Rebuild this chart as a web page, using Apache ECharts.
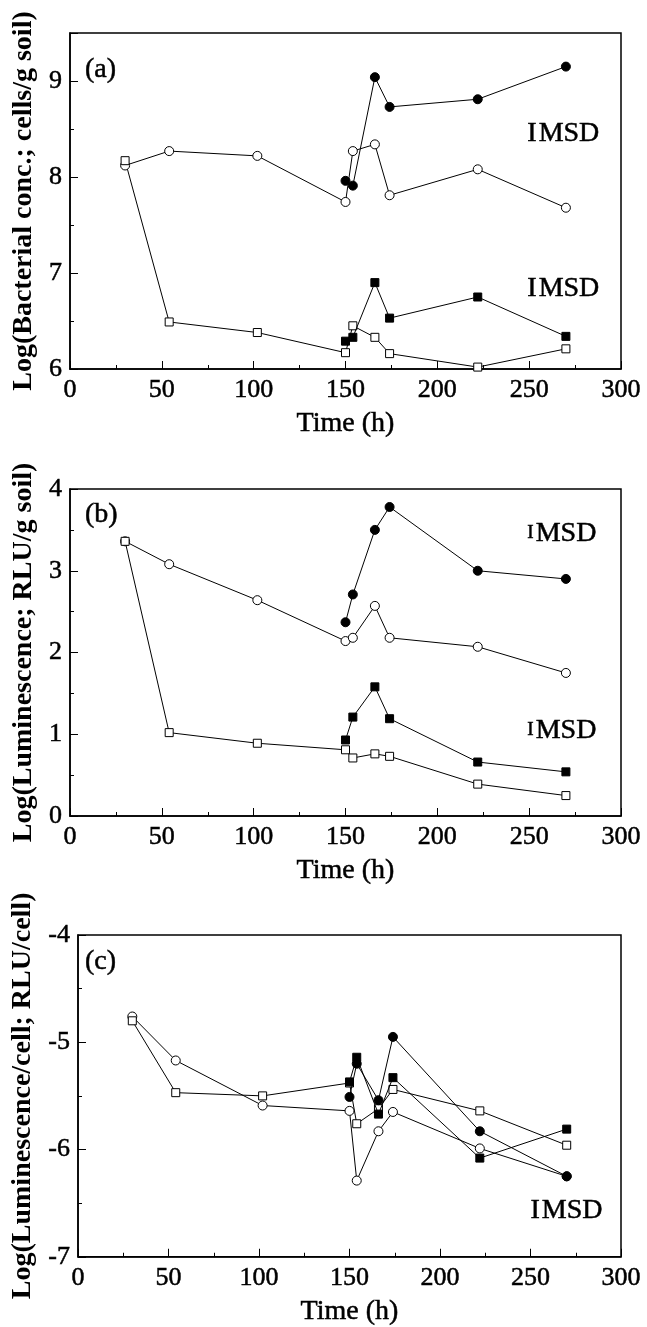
<!DOCTYPE html>
<html>
<head>
<meta charset="utf-8">
<script src="https://cdn.jsdelivr.net/npm/echarts@6/dist/echarts.min.js"></script>
<style>
  body { margin: 0; background: #fff; }
  #chart { width: 647px; height: 1327px; }
</style>
</head>
<body>
<div id="chart"></div>
<script>
// sampling times (h)
const hours = [30, 54, 102, 150, 154, 166, 174, 222, 270];
const hoursLate = [150, 154, 166, 174, 222, 270];

// (a) bacterial concentration
const aOpenCircle = [8.12, 8.27, 8.22, 7.74, 8.27, 8.34, 7.81, 8.08, 7.68];
const aFilledCircle = [7.96, 7.91, 9.04, 8.73, 8.81, 9.15];
const aOpenSquare = [8.17, 6.49, 6.38, 6.17, 6.45, 6.33, 6.16, 6.02, 6.21];
const aFilledSquare = [6.29, 6.33, 6.90, 6.53, 6.75, 6.34];

// (b) luminescence
const bOpenCircle = [3.36, 3.08, 2.64, 2.14, 2.18, 2.57, 2.18, 2.07, 1.75];
const bFilledCircle = [2.37, 2.71, 3.50, 3.78, 3.00, 2.90];
const bOpenSquare = [3.36, 1.02, 0.89, 0.81, 0.71, 0.76, 0.73, 0.39, 0.25];
const bFilledSquare = [0.93, 1.21, 1.58, 1.19, 0.66, 0.54];

// (c) luminescence per cell
const cOpenCircle = [-4.76, -5.17, -5.59, -5.64, -6.29, -5.83, -5.65, -5.99, -6.25];
const cFilledCircle = [-5.51, -5.20, -5.54, -4.95, -5.83, -6.25];
const cOpenSquare = [-4.80, -5.47, -5.50, -5.38, -5.76, -5.62, -5.44, -5.64, -5.96];
const cFilledSquare = [-5.37, -5.14, -5.67, -5.33, -6.08, -5.81];

// axis ranges / titles
const yRanges = [[6, 9.5], [0, 4], [-7, -4]];
const yTitles = ['Log(Bacterial conc.; cells/g soil)', 'Log(Luminescence; RLU/g soil)', 'Log(Luminescence/cell; RLU/cell)'];
const panelTags = ['(a)', '(b)', '(c)'];
// MSD bar positions [time, value] per panel
const msdMarks = [[[249, 8.45], [249, 6.84]], [[249, 3.46], [249, 1.05]], [[250, -6.57]]];

(function () {
    let myChart = echarts.init(document.getElementById('chart'))
    const serif = '"Liberation Serif", "Times New Roman", serif'
    // scanned text looks heavy, thicken a little
    const ink = { color: '#000', textBorderColor: '#000', textBorderWidth: 0.5 }

    const grids = [
        { left: 70, width: 551, top: 33, height: 336 },
        { left: 70, width: 551, top: 489, height: 327 },
        { left: 78, width: 543, top: 935, height: 327 }
    ].map(g => Object.assign(g, { show: true, borderColor: '#000', borderWidth: 1.5, backgroundColor: '#fff' }))

    const xAxes = grids.map((g, i) => ({
        type: 'value', gridIndex: i, min: 0, max: 300, interval: 50,
        name: 'Time (h)', nameLocation: 'middle', nameGap: 41,
        nameTextStyle: Object.assign({ fontFamily: serif, fontSize: 28 }, ink),
        axisLine: { onZero: false, lineStyle: { color: '#000', width: 1.5 } },
        axisTick: { inside: true, length: 8, lineStyle: { color: '#000' } },
        minorTick: { show: true, splitNumber: 2, length: 4, lineStyle: { color: '#000' } },
        axisLabel: Object.assign({ fontFamily: serif, fontSize: 26, margin: 8 }, ink),
        splitLine: { show: false }
    }))

    const yAxes = grids.map((g, i) => ({
        type: 'value', gridIndex: i, min: yRanges[i][0], max: yRanges[i][1], interval: 1,
        name: yTitles[i], nameLocation: 'middle', nameGap: i === 2 ? 37 : 29, nameRotate: 90,
        nameTextStyle: { fontFamily: serif, fontSize: 28, fontWeight: 'bold', color: '#000' },
        axisLine: { onZero: false, lineStyle: { color: '#000', width: 1.5 } },
        axisTick: { inside: true, length: 8, lineStyle: { color: '#000' } },
        minorTick: { show: true, splitNumber: 2, length: 4, lineStyle: { color: '#000' } },
        axisLabel: Object.assign({ fontFamily: serif, fontSize: 26, margin: 8, showMaxLabel: i !== 0 }, ink),
        splitLine: { show: false }
    }))

    function pts(xs, ys) {
        return xs.map((x, k) => [x, ys[k]])
    }

    function line(i, xs, ys, symbol, filled) {
        return {
            type: 'line', xAxisIndex: i, yAxisIndex: i,
            data: pts(xs, ys),
            symbol: symbol, symbolSize: symbol === 'rect' ? 8 : 9,
            showAllSymbol: true,
            lineStyle: { color: '#000', width: 1 },
            itemStyle: { color: filled ? '#000' : '#fff', borderColor: '#000', borderWidth: 1 },
            z: filled ? 3 : 2
        }
    }

    const sets = [
        [aOpenCircle, aFilledCircle, aOpenSquare, aFilledSquare],
        [bOpenCircle, bFilledCircle, bOpenSquare, bFilledSquare],
        [cOpenCircle, cFilledCircle, cOpenSquare, cFilledSquare]
    ]

    let series = []
    sets.forEach((s, i) => {
        series.push(line(i, hours, s[0], 'circle', false))
        series.push(line(i, hours, s[2], 'rect', false))
        series.push(line(i, hoursLate, s[1], 'circle', true))
        series.push(line(i, hoursLate, s[3], 'rect', true))
        // MSD annotation
        series.push({
            type: 'scatter', xAxisIndex: i, yAxisIndex: i,
            data: msdMarks[i], symbolSize: 0, silent: true,
            itemStyle: { opacity: 1, color: '#000' },
            label: Object.assign({
                show: true, position: 'right', distance: 0,
                formatter: '{i|I}MSD',
                fontFamily: serif, fontSize: 28,
                rich: { i: Object.assign({ fontFamily: serif, fontSize: i === 1 ? 19 : 28, padding: [0, 2, 0, 0] }, ink) }
            }, ink)
        })
    })

    let option = {
        animation: false,
        backgroundColor: '#fff',
        title: panelTags.map((t, i) => ({
            text: t, left: 85, top: [56, 501, 948][i], padding: 0,
            textStyle: Object.assign({ fontFamily: serif, fontSize: 28, fontWeight: 'normal' }, ink)
        })),
        grid: grids,
        xAxis: xAxes,
        yAxis: yAxes,
        series: series
    }
    myChart.setOption(option)
    window.addEventListener('resize', function () {
        myChart.resize();
    })
})();
</script>
</body>
</html>
